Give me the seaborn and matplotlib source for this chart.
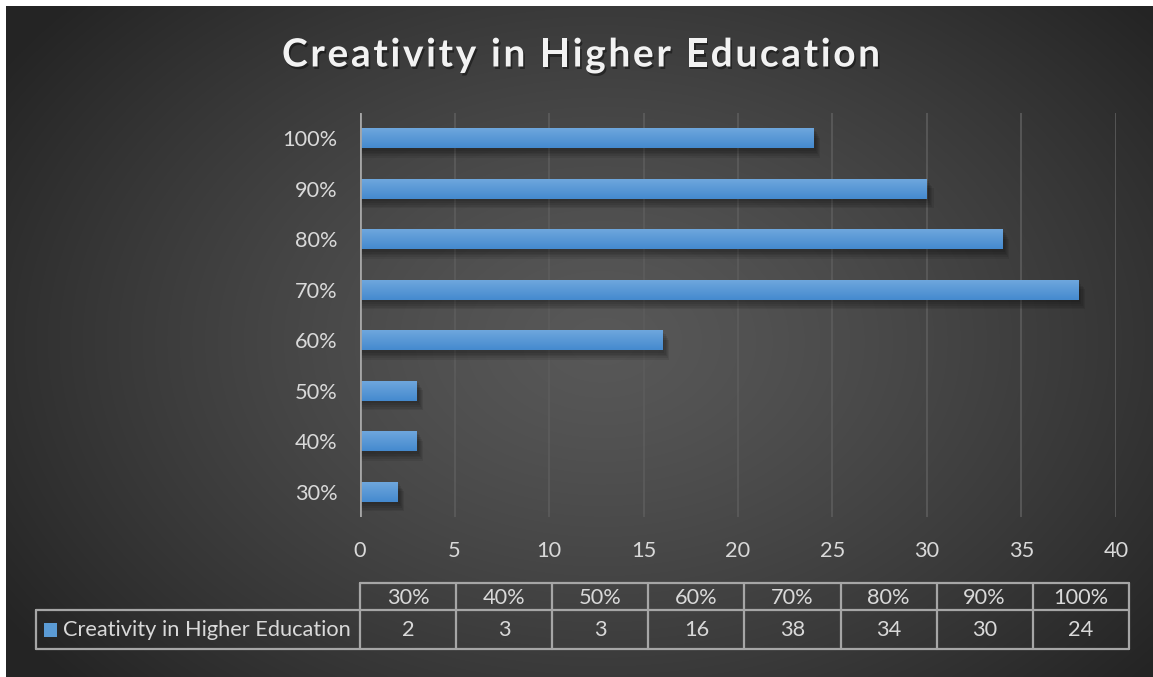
import numpy as np
import pandas as pd
import matplotlib
matplotlib.use("Agg")
import matplotlib.pyplot as plt
import matplotlib.patheffects as pe
from matplotlib.lines import Line2D
from matplotlib.patches import Rectangle
import seaborn as sns

# ---- data ----
categories = ["30%", "40%", "50%", "60%", "70%", "80%", "90%", "100%"]
values = [2, 3, 3, 16, 38, 34, 30, 24]
series_name = "Creativity in Higher Education"
title = "Creativity in Higher Education"
x_ticks = [0, 5, 10, 15, 20, 25, 30, 35, 40]

W, H = 1153, 677
TEXT = "#d9d9d9"
FS = 15.7
sns.set_theme(style="dark")
plt.rcParams["font.family"] = ["Lato", "DejaVu Sans"]

fig = plt.figure(figsize=(W / 100, H / 100), dpi=100, facecolor="white")


def fx(px):
    return px / W


def fy(py):
    return 1 - py / H


# ---- radial gradient background ----
bg = fig.add_axes([fx(6), 0, 1 - fx(6), fy(6)], zorder=-10)
gx, gy = np.meshgrid(np.linspace(0, 1, 600), np.linspace(0, 1, 360))
cx, cy = 0.52, 0.5
r = np.sqrt(((gx - cx) / 0.62) ** 2 + ((gy - cy) / 0.75) ** 2)
lum = 0.345 - 0.2 * np.clip(r, 0, 1) ** 1.3
img = np.dstack([lum, lum, lum])
bg.imshow(img, aspect="auto", extent=[0, 1, 0, 1], interpolation="bilinear")
bg.set_axis_off()

# ---- bar chart ----
ax = fig.add_axes([fx(360), fy(517), fx(1116) - fx(360), (517 - 113) / H])
ax.patch.set_alpha(0)
order = categories[::-1]
df = pd.DataFrame({"level": categories, "count": values})
sns.barplot(data=df, x="count", y="level", order=order, orient="h",
            color="#5b9bd5", width=0.4, ax=ax, saturation=1, zorder=3,
            edgecolor="none", linewidth=0)

ax.set_xlim(0, 40)
ax.set_ylim(len(order) - 0.5, -0.5)
ax.set_xticks(x_ticks)
ax.set_xticklabels([str(t) for t in x_ticks])
ax.grid(False)
for t in x_ticks[1:]:
    ax.axvline(t, color="#5c5c5c", lw=1.2, zorder=1)
ax.axvline(0, color="#a6a6a6", lw=2.0, zorder=5)
for s in ax.spines.values():
    s.set_visible(False)
ax.tick_params(axis="both", length=0, colors=TEXT, labelsize=FS)
ax.tick_params(axis="x", pad=17)
ax.tick_params(axis="y", pad=16)
ax.set_xlabel("")
ax.set_ylabel("")

# gradient fill and soft shadow on each bar
grad = np.linspace(0, 1, 64).reshape(-1, 1)
top_c = np.array([0.44, 0.66, 0.87])
bot_c = np.array([0.27, 0.54, 0.81])
bar_img = top_c * (1 - grad[..., None]) + bot_c * grad[..., None]
for p in list(ax.patches):
    x0, y0 = p.get_x(), p.get_y()
    w, h = p.get_width(), p.get_height()
    for k in range(5):
        off = 0.05 + 0.035 * k
        ax.add_patch(Rectangle((x0 + 0.05, y0 + off), w + 0.06 * (k + 1), h,
                               facecolor="black", edgecolor="none",
                               alpha=0.08, zorder=2))
    im = ax.imshow(bar_img, extent=[x0, x0 + w, y0 + h, y0], aspect="auto",
                   zorder=4, interpolation="bilinear")
    im.set_clip_path(p)
ax.set_xlim(0, 40)
ax.set_ylim(len(order) - 0.5, -0.5)

# ---- title, drawn letter by letter for wide tracking ----
renderer = fig.canvas.get_renderer()
TFS = 28
title_kw = dict(fontsize=TFS, fontweight="bold", color="#f2f2f2", va="center", ha="left",
                path_effects=[pe.withSimplePatchShadow(offset=(1.2, -1.8),
                                                       shadow_rgbFace="black", alpha=0.4)])
x_left, x_right = 282, 880
pieces = []
widths = []
for ch in title:
    t = fig.text(0, fy(55), ch, **title_kw)
    pieces.append(t)
    widths.append(t.get_window_extent(renderer).width if ch != " " else None)
probe_a = fig.text(0, 0, "a a", fontsize=TFS, fontweight="bold")
probe_b = fig.text(0, 0, "aa", fontsize=TFS, fontweight="bold")
space_w = probe_a.get_window_extent(renderer).width - probe_b.get_window_extent(renderer).width
probe_a.remove()
probe_b.remove()
widths = [w if w is not None else space_w for w in widths]
tracking = (x_right - x_left - sum(widths)) / (len(title) - 1)
xpos = x_left
for t, w in zip(pieces, widths):
    t.set_x(fx(xpos))
    xpos += w + tracking

# ---- data table ----
col_edges = [360 + 96.1 * i for i in range(len(categories) + 1)]
row_top, row_mid, row_bot = 583, 610, 649
left = 36
lc = "#a6a6a6"
lw = 1.6


def hline(y, x0, x1):
    fig.add_artist(Line2D([fx(x0), fx(x1)], [fy(y), fy(y)], color=lc, lw=lw))


def vline(x, y0, y1):
    fig.add_artist(Line2D([fx(x), fx(x)], [fy(y0), fy(y1)], color=lc, lw=lw))


hline(row_top, col_edges[0], col_edges[-1])
hline(row_mid, left, col_edges[-1])
hline(row_bot, left, col_edges[-1])
vline(left, row_mid, row_bot)
for xe in col_edges:
    vline(xe, row_top, row_bot)

for i, (cat, val) in enumerate(zip(categories, values)):
    xc = (col_edges[i] + col_edges[i + 1]) / 2
    fig.text(fx(xc), fy((row_top + row_mid) / 2 + 1), cat, ha="center", va="center",
             fontsize=FS, color=TEXT)
    fig.text(fx(xc), fy((row_mid + row_bot) / 2 + 1), str(val), ha="center", va="center",
             fontsize=FS, color=TEXT)

fig.add_artist(Rectangle((fx(44), fy(637)), fx(13), (637 - 623) / H,
                         transform=fig.transFigure, facecolor="#5b9bd5", edgecolor="none"))
fig.text(fx(63), fy((row_mid + row_bot) / 2 + 1), series_name, ha="left", va="center",
         fontsize=FS, color=TEXT)

fig.savefig("out.png", dpi=100, facecolor="white")
